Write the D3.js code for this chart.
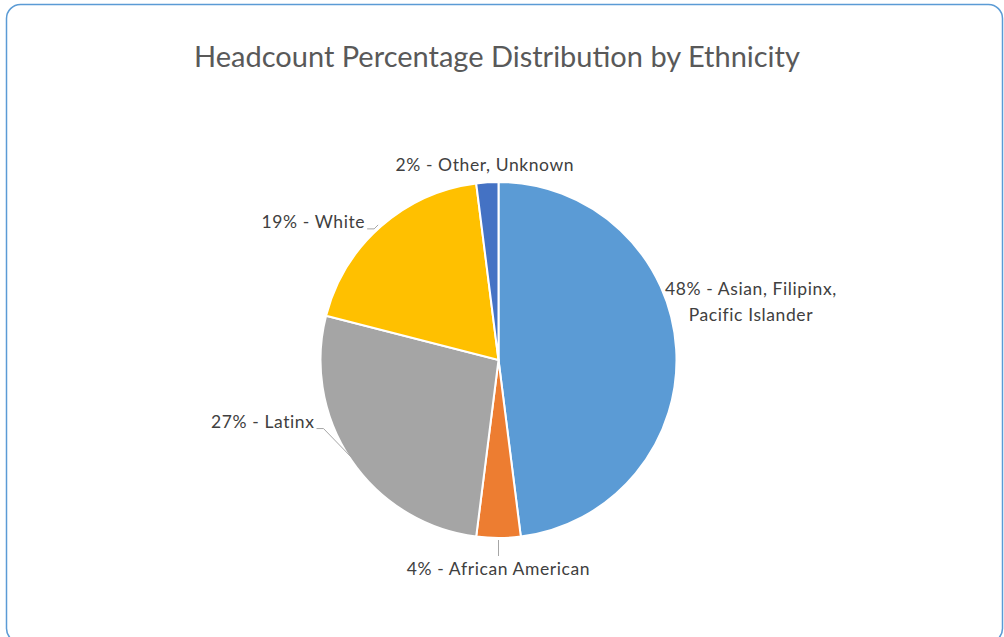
<!DOCTYPE html>
<html>
<head>
<meta charset="utf-8">
<script src="https://cdn.jsdelivr.net/npm/d3@7"></script>
<style>
  body { margin: 0; background: #fff; }
  svg { display: block; }
</style>
</head>
<body>
<div id="chart"></div>
<script>
// data
const categories = ["Asian, Filipinx, Pacific Islander", "African American", "Latinx", "White", "Other, Unknown"];
const percents = [48, 4, 27, 19, 2];
const colors = ["#5B9BD5", "#ED7D31", "#A5A5A5", "#FFC000", "#4472C4"];

const width = 1004, height = 637;
const cx = 498.5, cy = 360, radius = 178;

// label placement: angle (deg, clockwise from top), radius, anchor, leader
const labelLayout = [
    { angle: 72, r: 175, anchor: "start", lines: 2, leader: null },
    { angle: 180, r: 209, anchor: "middle", lines: 1, leader: "vertical" },
    { angle: 251.5, r: 194, anchor: "end", lines: 1, leader: "elbow" },
    { angle: 316, r: 192, anchor: "end", lines: 1, leader: "elbow" },
    { angle: 356, r: 196, anchor: "middle", lines: 1, leader: null }
];

const svg = d3.select("#chart")
    .append("svg")
    .attr("width", width)
    .attr("height", height);

// chart area frame
svg.append("rect")
    .attr("x", 6.5)
    .attr("y", 4.5)
    .attr("width", 996)
    .attr("height", 638)
    .attr("rx", 14)
    .attr("fill", "#fff")
    .attr("stroke", "#5B9BD5")
    .attr("stroke-width", 1.5);

svg.append("text")
    .attr("x", 497)
    .attr("y", 67)
    .attr("text-anchor", "middle")
    .attr("fill", "#595959")
    .style("font-family", "Lato, 'Open Sans', sans-serif")
    .style("font-size", "29px")
    .text("Headcount Percentage Distribution by Ethnicity");

const pie = d3.pie().sort(null).value(d => d)(percents);
const arc = d3.arc().innerRadius(0).outerRadius(radius);

const g = svg.append("g").attr("transform", `translate(${cx},${cy})`);

g.selectAll(".slice")
    .data(pie)
    .enter()
    .append("path")
    .attr("class", "slice")
    .attr("d", arc)
    .attr("fill", (d, i) => colors[i])
    .attr("stroke", "#fff")
    .attr("stroke-width", 2);

const rad = a => a * Math.PI / 180;
const polar = (a, r) => [r * Math.sin(rad(a)), -r * Math.cos(rad(a))];

pie.forEach((d, i) => {
    const L = labelLayout[i];
    const [lx, ly] = polar(L.angle, L.r);
    const label = `${percents[i]}% - ${categories[i]}`;
    const t = g.append("text")
        .attr("x", lx)
        .attr("y", ly)
        .attr("text-anchor", L.anchor)
        .attr("fill", "#404040")
        .style("font-family", "Lato, 'Open Sans', sans-serif")
        .style("font-size", "17.5px")
        .style("letter-spacing", "0.6px");
    if (L.lines === 2) {
        t.attr("text-anchor", "middle");
        t.append("tspan").attr("x", lx + 86).attr("dy", "-0.65em").text(`${percents[i]}% - Asian, Filipinx,`);
        t.append("tspan").attr("x", lx + 86).attr("dy", "1.5em").text("Pacific Islander");
    } else {
        t.attr("dy", "0.35em").text(label);
    }

    // leader lines
    const mid = (d.startAngle + d.endAngle) / 2 * 180 / Math.PI;
    if (L.leader === "vertical") {
        const [ax, ay] = polar(mid, radius + 2);
        g.append("line")
            .attr("x1", ax).attr("y1", ay)
            .attr("x2", ax).attr("y2", ly - 13)
            .attr("stroke", "#A6A6A6").attr("stroke-width", 1);
    } else if (L.leader === "elbow") {
        const [ax, ay] = polar(mid, radius - 2);
        const bx = lx + 9, by = ly + 7;
        const pts = i === 3
            ? [[lx + 2, by], [bx, by], [bx + 4, by - 4]]
            : [[lx + 2, by], [bx, by], [ax, ay]];
        g.append("polyline")
            .attr("points", pts.map(p => p.join(",")).join(" "))
            .attr("fill", "none")
            .attr("stroke", "#A6A6A6").attr("stroke-width", 1);
    }
});
</script>
</body>
</html>
